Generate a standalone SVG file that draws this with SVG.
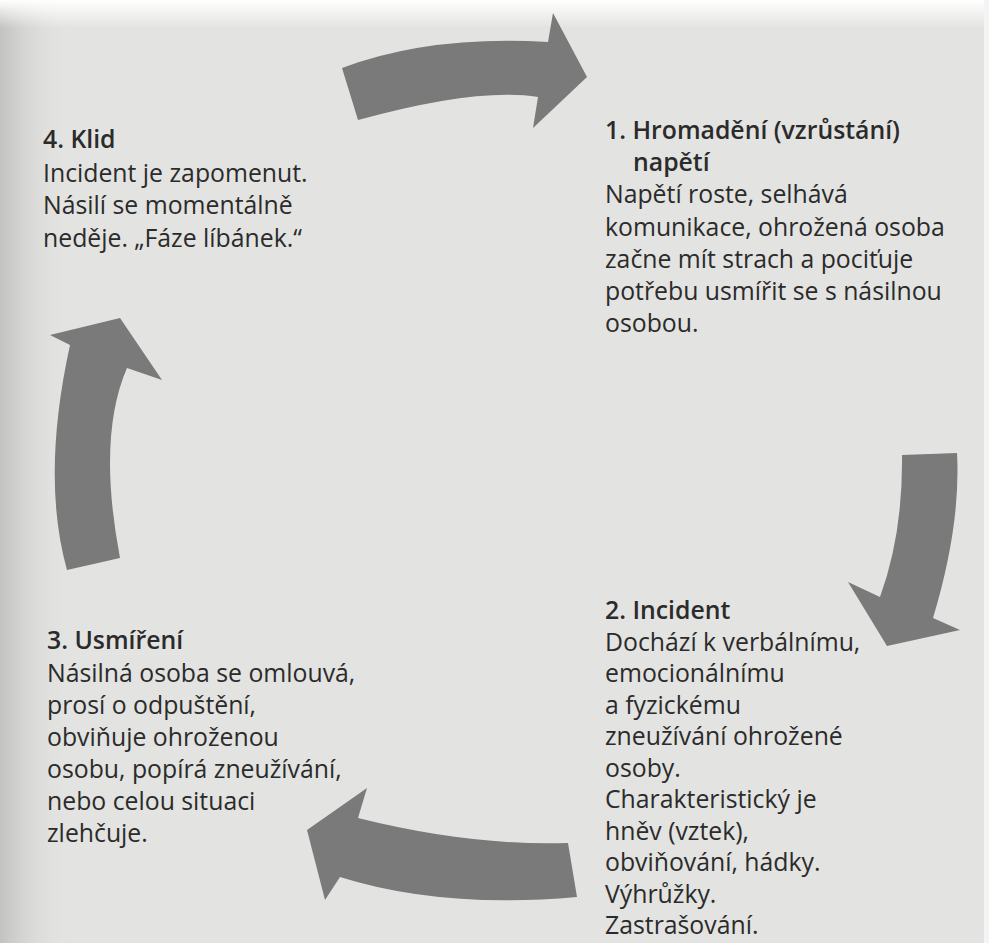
<svg xmlns="http://www.w3.org/2000/svg" width="989" height="943" viewBox="0 0 989 943">
<defs>
<style>
.t{font-family:"Open Sans","Noto Sans","Liberation Sans",sans-serif;font-size:24.8px;fill:#2b2b2b}
.b{font-weight:600}
.arrow{fill:#7a7a7a}
</style>
<linearGradient id="lg" x1="0" y1="0" x2="1" y2="0">
<stop offset="0" stop-color="#c2c2c0"/>
<stop offset="1" stop-color="#e3e3e1" stop-opacity="0"/>
</linearGradient>
<linearGradient id="tg" x1="0" y1="0" x2="0" y2="1">
<stop offset="0" stop-color="#ffffff"/>
<stop offset="1" stop-color="#ffffff" stop-opacity="0"/>
</linearGradient>
</defs>
<rect width="989" height="943" fill="#e3e3e1"/>
<rect width="70" height="943" fill="url(#lg)"/>
<rect width="989" height="28" fill="url(#tg)"/>
<rect x="984" width="5" height="943" fill="#f4f4f4"/>
<g id="connectors">
<path class="arrow" d="M342,68 Q430,35 548,42 L553,13 L587,77 L533,128 L538,97 Q478,87 358,120 Z"/>
<path class="arrow" d="M902,455 L957,453 Q961,525 933,618 L960,630 L887,646 L848,582 L880,597 Q903,534 902,455 Z"/>
<path class="arrow" d="M568,843 L577,897 Q441,909 340,877 L325,900 L307,830 L367,788 L358,818 Q470,846 568,843 Z"/>
<path class="arrow" d="M67,570 Q41,477 70,345 L50,335 L120,318 L162,380 L127,368 Q97,437 120,558 Z"/>
</g>
<g id="node1">
<text class="t b" x="605" y="139">1. Hromadění (vzrůstání)</text>
<text class="t b" x="633" y="171">napětí</text>
<text class="t" x="605" y="203">Napětí roste, selhává</text>
<text class="t" x="605" y="236">komunikace, ohrožená osoba</text>
<text class="t" x="605" y="268">začne mít strach a pociťuje</text>
<text class="t" x="605" y="300">potřebu usmířit se s násilnou</text>
<text class="t" x="605" y="332">osobou.</text>
</g>
<g id="node2">
<text class="t b" x="605" y="619">2. Incident</text>
<text class="t" x="605" y="650.5">Dochází k verbálnímu,</text>
<text class="t" x="605" y="682">emocionálnímu</text>
<text class="t" x="605" y="713.5">a fyzickému</text>
<text class="t" x="605" y="745">zneužívání ohrožené</text>
<text class="t" x="605" y="776.5">osoby.</text>
<text class="t" x="605" y="808">Charakteristický je</text>
<text class="t" x="605" y="839.5">hněv (vztek),</text>
<text class="t" x="605" y="871">obviňování, hádky.</text>
<text class="t" x="605" y="902.5">Výhrůžky.</text>
<text class="t" x="605" y="934">Zastrašování.</text>
</g>
<g id="node3">
<text class="t b" x="47" y="649">3. Usmíření</text>
<text class="t" x="47" y="682">Násilná osoba se omlouvá,</text>
<text class="t" x="47" y="714">prosí o odpuštění,</text>
<text class="t" x="47" y="746">obviňuje ohroženou</text>
<text class="t" x="47" y="778">osobu, popírá zneužívání,</text>
<text class="t" x="47" y="810">nebo celou situaci</text>
<text class="t" x="47" y="842">zlehčuje.</text>
</g>
<g id="node4">
<text class="t b" x="43" y="148">4. Klid</text>
<text class="t" x="43" y="182">Incident je zapomenut.</text>
<text class="t" x="43" y="214">Násilí se momentálně</text>
<text class="t" x="43" y="247">neděje. „Fáze líbánek.“</text>
</g>
</svg>
